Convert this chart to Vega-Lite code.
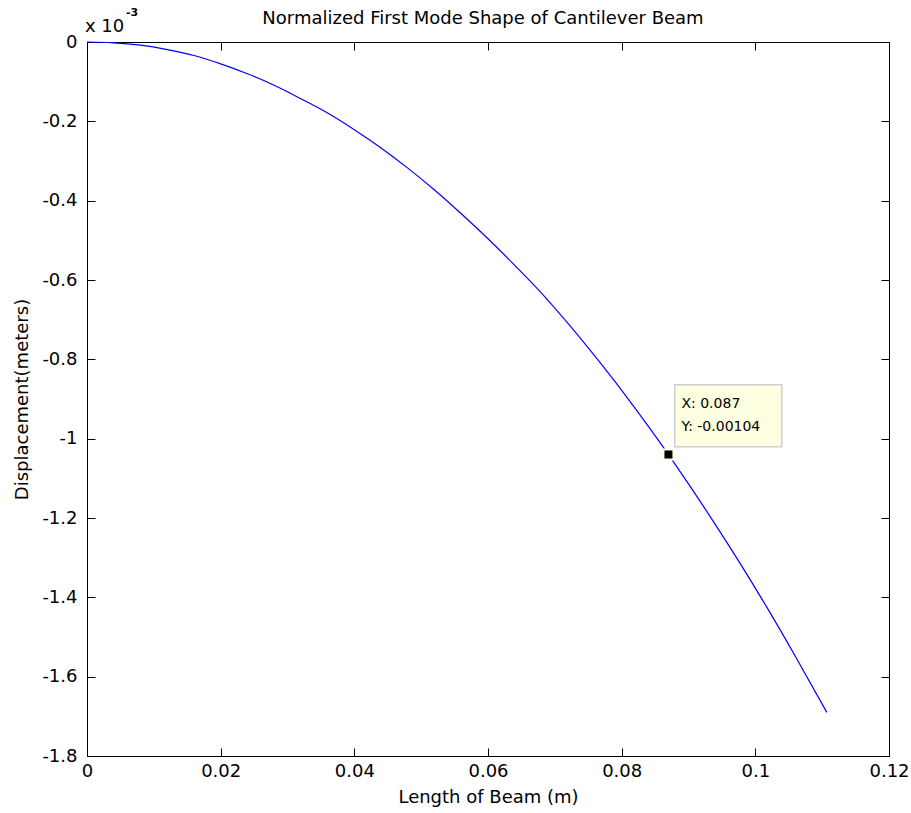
{
  "$schema": "https://vega.github.io/schema/vega-lite/v6.json",
  "width": 802,
  "height": 714,
  "autosize": {"type": "none"},
  "padding": {"left": 87, "top": 42, "right": 22, "bottom": 57},
  "background": "white",
  "title": {
    "text": "Normalized First Mode Shape of Cantilever Beam",
    "font": "DejaVu Sans",
    "fontSize": 18,
    "fontWeight": "normal",
    "color": "#000000",
    "frame": "group",
    "offset": -21,
    "dx": -5
  },
  "datasets": {
    "beam": [
      {"x": 0, "y": 0},
      {"x": 0.004, "y": -0.000002},
      {"x": 0.008, "y": -0.000008},
      {"x": 0.012, "y": -0.000019},
      {"x": 0.016, "y": -0.000034},
      {"x": 0.020, "y": -0.000055},
      {"x": 0.024, "y": -0.000080},
      {"x": 0.028, "y": -0.000109},
      {"x": 0.032, "y": -0.000143},
      {"x": 0.036, "y": -0.000179},
      {"x": 0.040, "y": -0.000221},
      {"x": 0.044, "y": -0.000267},
      {"x": 0.048, "y": -0.000318},
      {"x": 0.052, "y": -0.000373},
      {"x": 0.056, "y": -0.000433},
      {"x": 0.060, "y": -0.000496},
      {"x": 0.064, "y": -0.000563},
      {"x": 0.068, "y": -0.000633},
      {"x": 0.072, "y": -0.000710},
      {"x": 0.076, "y": -0.000792},
      {"x": 0.080, "y": -0.000878},
      {"x": 0.084, "y": -0.000969},
      {"x": 0.087, "y": -0.001040},
      {"x": 0.090, "y": -0.001114},
      {"x": 0.094, "y": -0.001216},
      {"x": 0.098, "y": -0.001322},
      {"x": 0.102, "y": -0.001433},
      {"x": 0.106, "y": -0.001549},
      {"x": 0.1107, "y": -0.001690}
    ],
    "tip": [
      {"x": 0.087, "y": -0.00104, "l1": "X: 0.087", "l2": "Y: -0.00104"}
    ]
  },
  "config": {
    "view": {"stroke": null},
    "axis": {
      "grid": false,
      "domainColor": "#000000",
      "domainWidth": 1,
      "tickColor": "#000000",
      "tickSize": -8,
      "labelColor": "#000000",
      "labelFont": "DejaVu Sans",
      "labelFontSize": 18,
      "labelPadding": 12,
      "titleColor": "#000000",
      "titleFont": "DejaVu Sans",
      "titleFontSize": 18,
      "titleFontWeight": "normal"
    }
  },
  "resolve": {"axis": {"x": "independent", "y": "independent"}},
  "layer": [
    {
      "data": {"name": "beam"},
      "mark": {"type": "line", "color": "#0000ff", "strokeWidth": 1.2, "interpolate": "monotone"},
      "encoding": {
        "x": {
          "field": "x", "type": "quantitative",
          "scale": {"domain": [0, 0.12], "nice": false, "zero": false},
          "axis": {
            "orient": "bottom",
            "title": "Length of Beam (m)",
            "values": [0, 0.02, 0.04, 0.06, 0.08, 0.1, 0.12],
            "labelExpr": "'' + datum.value",
            "labelFlush": false,
            "labelPadding": 14,
            "titlePadding": 8
          }
        },
        "y": {
          "field": "y", "type": "quantitative",
          "scale": {"domain": [-0.0018, 0], "nice": false, "zero": false},
          "axis": {
            "orient": "left",
            "title": "Displacement(meters)",
            "values": [0, -0.0002, -0.0004, -0.0006, -0.0008, -0.001, -0.0012, -0.0014, -0.0016, -0.0018],
            "labelExpr": "'' + round(datum.value * 10000) / 10",
            "labelFlush": false,
            "labelPadding": 18,
            "titlePadding": 10
          }
        }
      }
    },
    {
      "data": {"name": "beam"},
      "mark": {"type": "line", "opacity": 0},
      "encoding": {
        "x": {
          "field": "x", "type": "quantitative",
          "axis": {"orient": "top", "labels": false, "title": null,
                   "values": [0, 0.02, 0.04, 0.06, 0.08, 0.1, 0.12]}
        },
        "y": {
          "field": "y", "type": "quantitative",
          "axis": {"orient": "right", "labels": false, "title": null,
                   "values": [0, -0.0002, -0.0004, -0.0006, -0.0008, -0.001, -0.0012, -0.0014, -0.0016, -0.0018]}
        }
      }
    },
    {
      "data": {"name": "tip"},
      "mark": {"type": "rect", "width": 107, "height": 62, "xOffset": 59.8, "yOffset": -38.8,
               "fill": "#ffffe1", "stroke": "#cfcfcf", "strokeWidth": 1.5},
      "encoding": {
        "x": {"field": "x", "type": "quantitative", "axis": null},
        "y": {"field": "y", "type": "quantitative", "axis": null}
      }
    },
    {
      "data": {"name": "tip"},
      "mark": {"type": "point", "shape": "square", "size": 100, "filled": true,
               "fill": "#000000", "stroke": "#ffffe1", "strokeWidth": 2, "opacity": 1},
      "encoding": {
        "x": {"field": "x", "type": "quantitative", "axis": null},
        "y": {"field": "y", "type": "quantitative", "axis": null}
      }
    },
    {
      "data": {"name": "tip"},
      "mark": {"type": "text", "align": "left", "baseline": "middle", "dx": 13, "dy": -51,
               "font": "DejaVu Sans", "fontSize": 14, "color": "#000000"},
      "encoding": {
        "x": {"field": "x", "type": "quantitative", "axis": null},
        "y": {"field": "y", "type": "quantitative", "axis": null},
        "text": {"field": "l1"}
      }
    },
    {
      "data": {"name": "tip"},
      "mark": {"type": "text", "align": "left", "baseline": "middle", "dx": 13, "dy": -28,
               "font": "DejaVu Sans", "fontSize": 14, "color": "#000000"},
      "encoding": {
        "x": {"field": "x", "type": "quantitative", "axis": null},
        "y": {"field": "y", "type": "quantitative", "axis": null},
        "text": {"field": "l2"}
      }
    },
    {
      "data": {"values": [{}]},
      "mark": {"type": "text", "text": "x 10", "align": "left", "baseline": "alphabetic",
               "dx": -2, "dy": -10, "font": "DejaVu Sans", "fontSize": 18, "color": "#000000"},
      "encoding": {
        "x": {"datum": 0, "type": "quantitative", "axis": null},
        "y": {"datum": 0, "type": "quantitative", "axis": null}
      }
    },
    {
      "data": {"values": [{}]},
      "mark": {"type": "text", "text": "-3", "align": "left", "baseline": "alphabetic",
               "dx": 39, "dy": -26, "font": "DejaVu Sans", "fontSize": 11, "fontWeight": "bold", "color": "#000000"},
      "encoding": {
        "x": {"datum": 0, "type": "quantitative", "axis": null},
        "y": {"datum": 0, "type": "quantitative", "axis": null}
      }
    }
  ]
}
